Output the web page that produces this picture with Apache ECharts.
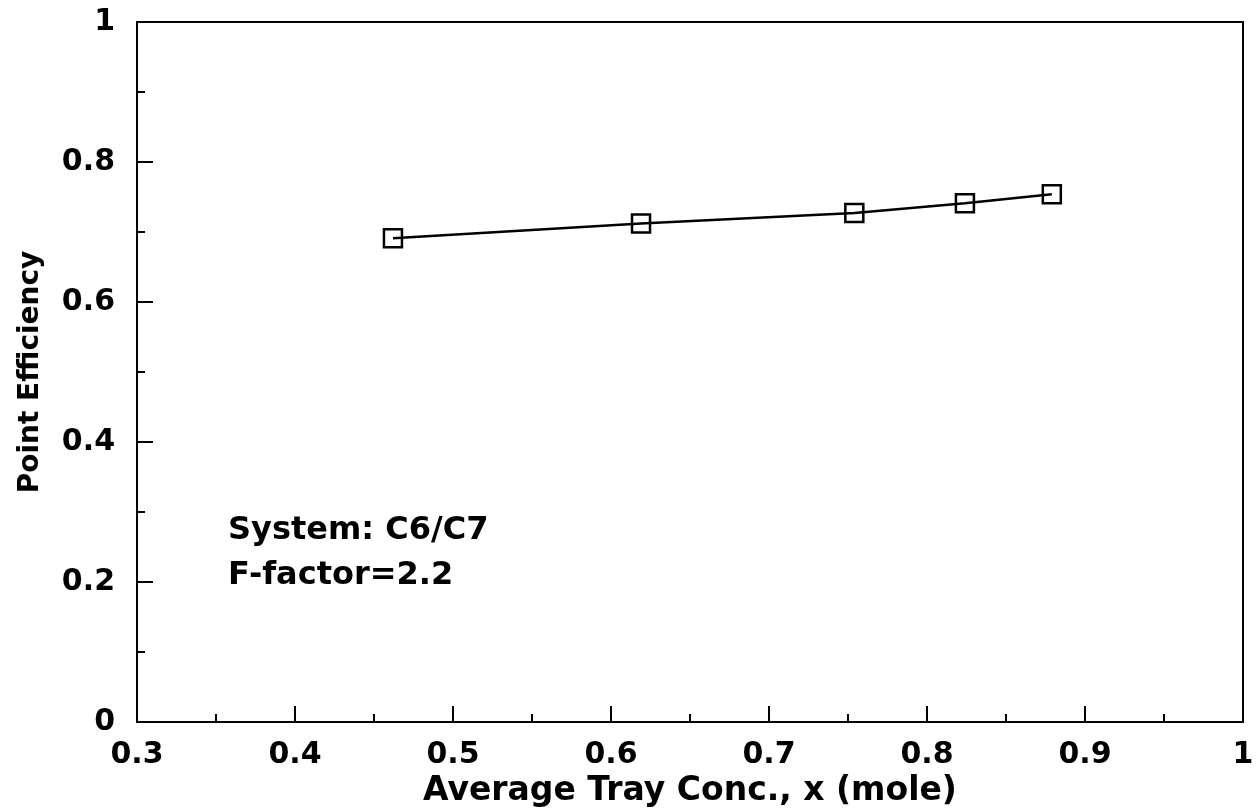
<!DOCTYPE html>
<html><head><meta charset="utf-8">
<script src="https://cdn.jsdelivr.net/npm/echarts@6/dist/echarts.min.js"></script>
<style>html,body{margin:0;padding:0;background:#fff}#c{width:1256px;height:809px}</style>
</head><body><div id="c"></div>
<script>
const xValues = [0.462, 0.619, 0.754, 0.824, 0.879];
const yValues = [0.691, 0.712, 0.727, 0.741, 0.754];
const annotations = ["System: C6/C7", "F-factor=2.2"];
const xTitle = "Average Tray Conc., x (mole)";
const yTitle = "Point Efficiency";

const chart = echarts.init(document.getElementById('c'));
const font = '"DejaVu Sans", "Liberation Sans", Arial, sans-serif';
const axisCommon = {
  axisLine: {show: true, lineStyle: {color: '#000', width: 2}},
  axisTick: {show: true, inside: true, length: 16, lineStyle: {color: '#000', width: 2}},
  minorTick: {show: true, splitNumber: 2, length: 8, lineStyle: {color: '#000', width: 2}},
  splitLine: {show: false},
  axisLabel: {color: '#000', fontFamily: font, fontWeight: 'bold', fontSize: 30},
  nameTextStyle: {color: '#000', fontFamily: font, fontWeight: 'bold', fontSize: 28}
};
chart.setOption({
  animation: false,
  backgroundColor: '#fff',
  grid: {left: 137, right: 13, top: 22, bottom: 87, containLabel: false, outerBoundsMode: 'none',
         show: true, borderColor: '#000', borderWidth: 2},
  xAxis: Object.assign({}, axisCommon, {
    type: 'value', min: 0.3, max: 1, interval: 0.1,
    name: xTitle, nameLocation: 'middle', nameGap: 48,
    nameTextStyle: Object.assign({}, axisCommon.nameTextStyle, {fontSize: 33}),
    axisLabel: Object.assign({}, axisCommon.axisLabel, {margin: 18, formatter: v => (Math.round(v*10)/10).toString()})
  }),
  yAxis: Object.assign({}, axisCommon, {
    type: 'value', min: 0, max: 1, interval: 0.2,
    name: yTitle, nameLocation: 'middle', nameGap: 92,
    axisLabel: Object.assign({}, axisCommon.axisLabel, {margin: 22, formatter: v => (Math.round(v*10)/10).toString()})
  }),
  series: [{
    type: 'line',
    data: xValues.map((x, i) => [x, yValues[i]]),
    symbol: 'rect', symbolSize: 18,
    lineStyle: {color: '#000', width: 2.5},
    itemStyle: {color: 'rgba(255,255,255,0)', borderColor: '#000', borderWidth: 2.5},
    z: 3
  }],
  graphic: annotations.map((t, i) => ({
    type: 'text', left: 228, top: 515 + i * 45,
    style: {text: t, fill: '#000', font: 'bold 32px ' + font}
  }))
});
</script></body></html>
